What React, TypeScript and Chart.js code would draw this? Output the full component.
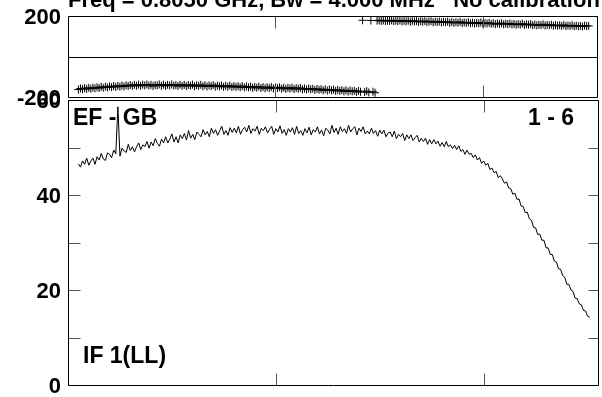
import React, { useEffect, useRef } from 'react';
import { Chart, registerables } from 'chart.js';

Chart.register(...registerables);

const FONT = "'Liberation Sans', Arial, Helvetica, sans-serif";

const TITLE = 'Freq = 0.8050 GHz, Bw = 4.000 MHz   No calibration';
const BASELINE_LABEL = 'EF - GB';
const RANGE_LABEL = '1 - 6';
const POL_LABEL = 'IF 1(LL)';

const FIRST_CHANNEL = 5;
const X_MIN = 0;
const X_MAX = 255;
const X_TICKS = [100, 200];

const PHASE_MIN = -200;
const PHASE_MAX = 200;
const PHASE_STEP = 200;

const AMP_MIN = 0;
const AMP_MAX = 60;
const AMP_STEP = 10;
const AMP_LABEL_STEP = 20;

// amplitude per channel, channels 5..251
const AMPLITUDE = [
  46.6, 45.9, 47.2, 46.5, 47.8, 46.3, 47.2, 47.8, 46.5, 48.1,
  47.4, 48.8, 47.6, 47.3, 48.9, 48.6, 47.9, 49.5, 48.7, 58.6,
  48.2, 49.9, 49.3, 49.0, 50.7, 49.4, 50.2, 49.1, 50.2, 51.0,
  49.6, 50.6, 50.2, 51.3, 49.9, 51.2, 50.4, 51.9, 50.9, 50.3,
  51.8, 51.0, 52.3, 51.0, 51.8, 52.9, 51.2, 52.3, 51.0, 52.7,
  51.9, 53.0, 51.6, 53.6, 52.0, 52.8, 51.7, 53.3, 52.8, 52.3,
  53.8, 52.7, 53.4, 52.3, 54.1, 53.0, 53.8, 52.6, 53.6, 54.5,
  52.8, 53.6, 52.6, 54.2, 53.2, 54.1, 53.1, 54.5, 52.8, 53.8,
  54.3, 53.3, 54.7, 53.0, 54.0, 53.5, 54.5, 52.8, 54.1, 53.6,
  54.4, 53.1, 53.9, 54.5, 52.8, 54.0, 53.3, 54.6, 53.0, 53.8,
  52.6, 54.0, 53.3, 54.2, 52.8, 54.5, 53.0, 53.6, 52.6, 54.0,
  53.1, 54.3, 52.7, 53.8, 53.3, 54.4, 52.9, 53.7, 52.5, 54.1,
  53.7, 52.9, 54.7, 53.2, 54.1, 52.8, 54.4, 53.4, 54.0, 53.0,
  54.7, 53.3, 54.0, 54.4, 52.7, 54.1, 53.4, 54.4, 52.9, 53.5,
  52.9, 54.1, 53.0, 53.6, 52.4, 53.7, 52.9, 53.7, 52.3, 53.1,
  53.3, 52.3, 53.5, 51.9, 52.8, 52.3, 53.0, 51.5, 52.7, 51.9,
  52.7, 51.5, 52.1, 52.6, 51.2, 52.0, 51.3, 52.0, 50.7, 51.7,
  50.8, 51.7, 50.8, 51.4, 50.3, 51.1, 50.2, 51.3, 50.2, 50.6,
  49.8, 50.5, 49.6, 50.4, 49.2, 49.6, 48.6, 49.5, 48.6, 48.8,
  47.9, 48.5, 47.4, 47.9, 46.7, 47.2, 46.3, 46.7, 45.4, 45.7,
  44.7, 45.0, 43.7, 44.1, 43.4, 42.5, 42.8, 41.5, 41.4, 40.2,
  40.4, 39.1, 39.2, 37.7, 37.6, 36.3, 36.4, 35.0, 34.7, 33.2,
  33.1, 31.7, 31.8, 30.5, 30.5, 28.9, 28.9, 27.5, 27.5, 26.1,
  25.9, 24.5, 24.4, 23.0, 22.7, 21.2, 21.2, 20.0, 19.7, 18.3,
  18.2, 17.1, 16.9, 15.7, 15.6, 14.5, 14.3,
];

// phase (degrees) per channel, channels 5..251
const PHASE = [
  -163, -158, -161, -156, -160, -155, -159, -154, -157, -152,
  -156, -150, -154, -149, -153, -147, -151, -146, -150, -145,
  -149, -144, -148, -142, -146, -141, -145, -140, -144, -139,
  -145, -139, -143, -138, -144, -140, -146, -141, -143, -138,
  -144, -139, -145, -140, -143, -138, -144, -141, -146, -139,
  -145, -140, -146, -141, -144, -139, -147, -142, -145, -140,
  -147, -142, -148, -143, -146, -141, -149, -144, -147, -143,
  -150, -145, -149, -144, -151, -146, -150, -147, -152, -146,
  -153, -148, -152, -149, -155, -150, -154, -149, -156, -151,
  -157, -152, -155, -151, -158, -153, -156, -152, -159, -154,
  -160, -155, -158, -154, -161, -156, -159, -155, -162, -158,
  -163, -158, -162, -159, -165, -160, -164, -161, -167, -162,
  -168, -163, -167, -164, -170, -165, -169, -166, -172, -167,
  -173, -168, -172, -169, -175, -170, -174, 179, -176, -171,
  -177, 178, -174, -179, 177, 179, 176, 178, 175, 177,
  176, 179, 174, 177, 175, 178, 173, 176, 174, 177,
  172, 176, 173, 175, 171, 174, 172, 175, 170, 173,
  174, 169, 172, 170, 173, 168, 171, 169, 172, 167,
  170, 166, 169, 167, 171, 165, 168, 166, 169, 164,
  167, 163, 166, 164, 168, 162, 165, 163, 166, 161,
  164, 160, 163, 161, 165, 159, 162, 160, 163, 158,
  161, 157, 160, 158, 162, 156, 159, 157, 160, 155,
  158, 154, 157, 155, 159, 153, 156, 154, 157, 152,
  155, 152, 154, 151, 156, 150, 153, 151, 154, 149,
  152, 149, 151, 148, 153, 150, 151,
];

const TICK_COLOR = '#555';
const AXIS_COLOR = '#000';

const tickFont = { family: FONT, size: 22, weight: 'bold' as const };

function drawFrame(chart: any, opts: { midLine: boolean; skipZeroTick: boolean }) {
  const { ctx, chartArea: a, scales } = chart;
  const x = scales.x;
  const y = scales.y;
  const L = Math.round(a.left) + 0.5;
  const R = Math.round(a.right) + 0.5;
  const T = Math.round(a.top) + 0.5;
  const B = Math.round(a.bottom) + 0.5;
  ctx.save();
  ctx.lineWidth = 1;
  ctx.strokeStyle = TICK_COLOR;
  ctx.beginPath();
  for (const v of X_TICKS) {
    const px = Math.round(x.getPixelForValue(v)) + 0.5;
    ctx.moveTo(px, T);
    ctx.lineTo(px, T + 12);
    ctx.moveTo(px, B);
    ctx.lineTo(px, B - 12);
  }
  for (const t of y.ticks) {
    if (opts.skipZeroTick && t.value === 0) continue;
    const py = Math.round(y.getPixelForValue(t.value)) + 0.5;
    ctx.moveTo(L, py);
    ctx.lineTo(L + 12, py);
    ctx.moveTo(R - 10, py);
    ctx.lineTo(R, py);
  }
  ctx.stroke();
  ctx.strokeStyle = AXIS_COLOR;
  ctx.beginPath();
  ctx.rect(L, T, R - L, B - T);
  if (opts.midLine) {
    const py0 = Math.round(y.getPixelForValue(0)) + 0.5;
    ctx.moveTo(L, py0);
    ctx.lineTo(R, py0);
  }
  ctx.stroke();
  ctx.restore();
}

const phaseFrame = {
  id: 'phaseFrame',
  afterDraw(chart: any) {
    drawFrame(chart, { midLine: true, skipZeroTick: true });
    const { ctx, chartArea: a } = chart;
    ctx.save();
    ctx.fillStyle = '#000';
    ctx.font = `bold 22px ${FONT}`;
    ctx.textAlign = 'left';
    ctx.textBaseline = 'alphabetic';
    ctx.fillText(TITLE, a.left, a.top - 9);
    ctx.restore();
  },
};

const ampFrame = {
  id: 'ampFrame',
  afterDraw(chart: any) {
    drawFrame(chart, { midLine: false, skipZeroTick: false });
    const { ctx, chartArea: a } = chart;
    ctx.save();
    ctx.fillStyle = '#000';
    ctx.font = `bold 23px ${FONT}`;
    ctx.textBaseline = 'alphabetic';
    ctx.textAlign = 'left';
    ctx.fillText(BASELINE_LABEL, a.left + 5, a.top + 25);
    ctx.fillText(POL_LABEL, a.left + 15, a.bottom - 22);
    ctx.textAlign = 'right';
    ctx.fillText(RANGE_LABEL, a.right - 24, a.top + 25);
    ctx.restore();
  },
};

export default function App() {
  const phaseRef = useRef<HTMLCanvasElement>(null);
  const ampRef = useRef<HTMLCanvasElement>(null);

  useEffect(() => {
    const phaseChart = new Chart(phaseRef.current as HTMLCanvasElement, {
      type: 'scatter',
      data: {
        datasets: [
          {
            data: PHASE.map((v, i) => ({ x: FIRST_CHANNEL + i, y: v })),
            showLine: false,
            pointStyle: 'cross',
            pointRadius: 4,
            borderColor: '#000',
            backgroundColor: '#000',
            borderWidth: 1,
          },
        ],
      },
      options: {
        responsive: false,
        animation: false,
        events: [],
        layout: { padding: { top: 36, bottom: 23, left: 0, right: 4 } },
        plugins: { legend: { display: false }, tooltip: { enabled: false } },
        scales: {
          x: { type: 'linear', display: false, min: X_MIN, max: X_MAX },
          y: {
            min: PHASE_MIN,
            max: PHASE_MAX,
            grid: { display: false, drawTicks: false },
            border: { display: false },
            afterFit: (s: any) => {
              s.width = 68;
            },
            ticks: {
              stepSize: PHASE_STEP,
              callback: (v: any) => (v === 0 ? '' : String(v)),
              font: tickFont,
              color: '#000',
              padding: 7,
              labelOffset: 2,
            },
          },
        },
      },
      plugins: [phaseFrame],
    } as any);

    const ampChart = new Chart(ampRef.current as HTMLCanvasElement, {
      type: 'scatter',
      data: {
        datasets: [
          {
            data: AMPLITUDE.map((v, i) => ({ x: FIRST_CHANNEL + i, y: v })),
            showLine: true,
            pointRadius: 0,
            borderColor: '#000',
            borderWidth: 1,
            tension: 0,
          },
        ],
      },
      options: {
        responsive: false,
        animation: false,
        events: [],
        layout: { padding: { top: 18, bottom: 25, left: 0, right: 4 } },
        plugins: { legend: { display: false }, tooltip: { enabled: false } },
        scales: {
          x: { type: 'linear', display: false, min: X_MIN, max: X_MAX },
          y: {
            min: AMP_MIN,
            max: AMP_MAX,
            grid: { display: false, drawTicks: false },
            border: { display: false },
            afterFit: (s: any) => {
              s.width = 68;
            },
            ticks: {
              stepSize: AMP_STEP,
              callback: (v: any) => (v % AMP_LABEL_STEP === 0 ? String(v) : ''),
              font: tickFont,
              color: '#000',
              padding: 7,
              labelOffset: 2,
            },
          },
        },
      },
      plugins: [ampFrame],
    } as any);

    return () => {
      phaseChart.destroy();
      ampChart.destroy();
    };
  }, []);

  return (
    <div
      style={{
        position: 'absolute',
        left: 0,
        top: 0,
        width: 602,
        height: 397,
        overflow: 'hidden',
        background: '#fff',
      }}
    >
      <canvas
        ref={phaseRef}
        width={602}
        height={140}
        style={{ position: 'absolute', left: 0, top: -20, width: 602, height: 140 }}
      />
      <canvas
        ref={ampRef}
        width={602}
        height={330}
        style={{ position: 'absolute', left: 0, top: 80, width: 602, height: 330 }}
      />
    </div>
  );
}
